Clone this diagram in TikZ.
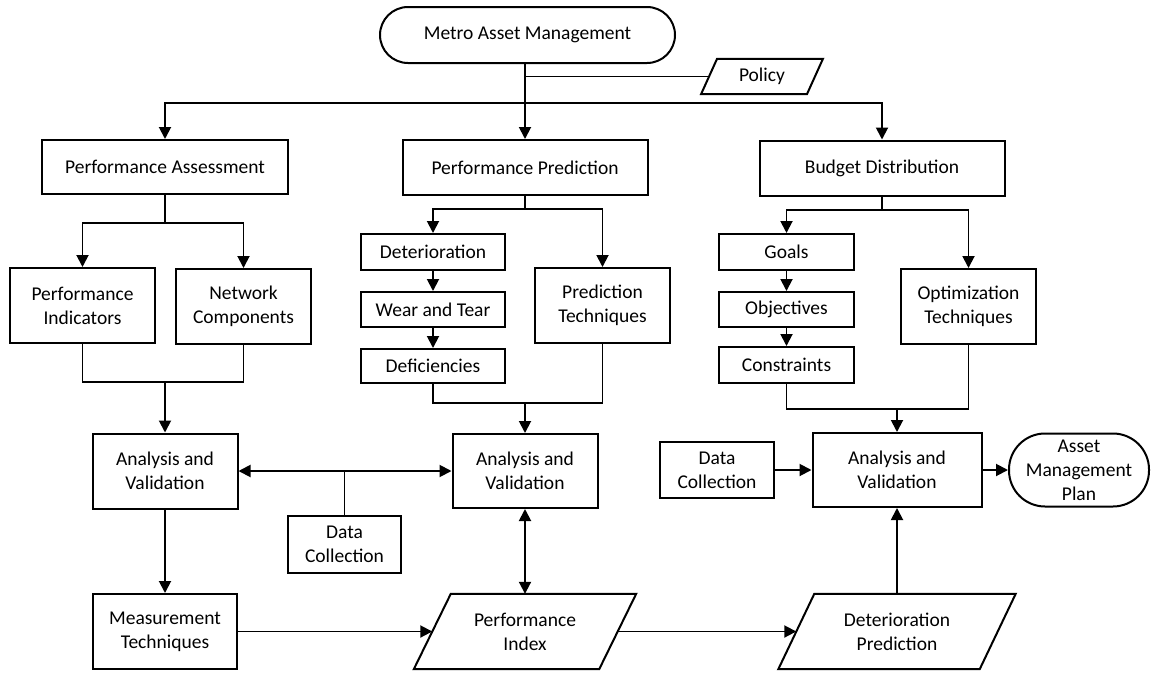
\documentclass[tikz,border=0pt]{standalone}
\usepackage{fontspec}
\setmainfont{Carlito}
\usetikzlibrary{arrows.meta,calc}
\begin{document}
\begin{tikzpicture}[x=1pt,y=-1pt,
  box/.style={draw, line width=2pt, inner sep=1pt, align=center, font=\fontsize{19.5}{24}\selectfont},
  txt/.style={inner sep=1pt, align=center, font=\fontsize{19.5}{24}\selectfont},
  pgram/.style={line width=2pt, line join=miter},
  ln/.style={line width=1.9pt},
  arr/.style={ln, -{Triangle[length=12pt,width=12pt]}},
  arrb/.style={ln, {Triangle[length=12pt,width=12pt]}-{Triangle[length=12pt,width=12pt]}}
]
\useasboundingbox (0,0) rectangle (1151,672);

% top
\node[box, rounded corners=28pt, minimum width=295pt, minimum height=56pt] (metro) at (527.5,35) {Metro Asset Management};
\node[txt, minimum width=105.5pt, minimum height=35pt] (policy) at (762,76.5) {Policy};
\draw[pgram] ($(policy.south west)+(-8,0)$) -- ($(policy.north west)+(8,0)$) -- ($(policy.north east)+(8,0)$) -- ($(policy.south east)+(-8,0)$) -- cycle;

% level 1
\node[box, minimum width=246pt, minimum height=54pt] (PA) at (165,167) {Performance Assessment};
\node[box, minimum width=245pt, minimum height=55pt] (PP) at (525,167.5) {Performance Prediction};
\node[box, minimum width=245pt, minimum height=55pt] (BD) at (882,168) {Budget Distribution};

% assessment children
\node[box, minimum width=145pt, minimum height=75pt] (PIn) at (82.5,305.5) {Performance\\Indicators};
\node[box, minimum width=135pt, minimum height=75pt] (NC) at (243.5,306.5) {Network\\Components};

% prediction children
\node[box, minimum width=144pt, minimum height=36pt] (Det) at (433,252) {Deterioration};
\node[box, minimum width=144pt, minimum height=35pt] (WT) at (433,309.5) {Wear and Tear};
\node[box, minimum width=144pt, minimum height=34pt] (Def) at (433,366) {Deficiencies};
\node[box, minimum width=135pt, minimum height=75pt] (PT) at (602.5,305.5) {Prediction\\Techniques};

% budget children
\node[box, minimum width=135pt, minimum height=36pt] (Goals) at (786.5,252) {Goals};
\node[box, minimum width=135pt, minimum height=35pt] (Obj) at (786.5,309.5) {Objectives};
\node[box, minimum width=135pt, minimum height=36pt] (Con) at (786.5,365) {Constraints};
\node[box, minimum width=135pt, minimum height=75pt] (OT) at (968.5,306.5) {Optimization\\Techniques};

% analysis row
\node[box, minimum width=145pt, minimum height=75pt] (AV1) at (165,471) {Analysis and\\Validation};
\node[box, minimum width=113pt, minimum height=57pt] (DC1) at (344.5,544.5) {Data\\Collection};
\node[box, minimum width=145pt, minimum height=74pt] (AV2) at (525,471) {Analysis and\\Validation};
\node[box, minimum width=114pt, minimum height=56pt] (DC3) at (717,470) {Data\\Collection};
\node[box, minimum width=169pt, minimum height=74pt] (AV3) at (897,470) {Analysis and\\Validation};
\node[box, rounded corners=36pt, minimum width=140pt, minimum height=73pt] (AMP) at (1079,470) {Asset\\Management\\Plan};

% bottom row
\node[box, minimum width=144pt, minimum height=75pt] (MT) at (165,631.5) {Measurement\\Techniques};
\node[txt, minimum width=185pt, minimum height=75pt] (PIx) at (525,631.5) {Performance\\Index};
\draw[pgram] ($(PIx.south west)+(-18.5,0)$) -- ($(PIx.north west)+(18.5,0)$) -- ($(PIx.north east)+(18.5,0)$) -- ($(PIx.south east)+(-18.5,0)$) -- cycle;
\node[txt, minimum width=201pt, minimum height=75pt] (DP) at (897,631.5) {Deterioration\\Prediction};
\draw[pgram] ($(DP.south west)+(-18,0)$) -- ($(DP.north west)+(18,0)$) -- ($(DP.north east)+(18,0)$) -- ($(DP.south east)+(-18,0)$) -- cycle;

% top connectors
\coordinate (bus) at (525,103);
\draw[arr] (metro.south -| PP.north) -- (PP.north);
\draw[ln] (policy.west) -- (policy.west -| PP.north);
\draw[arr] (bus) -| (PA.north);
\draw[arr] (bus) -| (BD.north);

% assessment branch
\coordinate (pab) at (PA.south |- 0,223);
\draw[arr] (PA.south) -- (pab) -| (PIn.north);
\draw[arr] (pab) -| (NC.north);
\coordinate (j1) at (AV1.north |- 0,382);
\draw[ln] (PIn.south) |- (j1) -| (NC.south);
\draw[arr] (j1) -- (AV1.north);

% prediction branch
\coordinate (ppb) at (PP.south |- 0,209);
\draw[arr] (PP.south) -- (ppb) -| (Det.north);
\draw[arr] (ppb) -| (PT.north);
\draw[arr] (Det.south) -- (WT.north);
\draw[arr] (WT.south) -- (Def.north);
\coordinate (j2) at (AV2.north |- 0,403);
\draw[ln] (Def.south) |- (j2) -| (PT.south);
\draw[arr] (j2) -- (AV2.north);

% budget branch
\coordinate (bdb) at (BD.south |- 0,210);
\draw[arr] (BD.south) -- (bdb) -| (Goals.north);
\draw[arr] (bdb) -| (OT.north);
\draw[arr] (Goals.south) -- (Obj.north);
\draw[arr] (Obj.south) -- (Con.north);
\coordinate (j3) at (AV3.north |- 0,409);
\draw[ln] (Con.south) |- (j3) -| (OT.south);
\draw[arr] (j3) -- (AV3.north);

% lower connectors
\draw[arrb] (AV1.east) -- (AV2.west);
\draw[ln] (DC1.north) -- (DC1.north |- AV1.east);
\draw[arr] (AV1.south) -- (MT.north);
\draw[arr] (MT.east) -- (PIx.west);
\draw[arrb] (AV2.south) -- (PIx.north);
\draw[arr] (PIx.east) -- (DP.west);
\draw[arr] (DP.north) -- (AV3.south);
\draw[arr] (DC3.east) -- (AV3.west);
\draw[arr] (AV3.east) -- (AMP.west);
\end{tikzpicture}
\end{document}
